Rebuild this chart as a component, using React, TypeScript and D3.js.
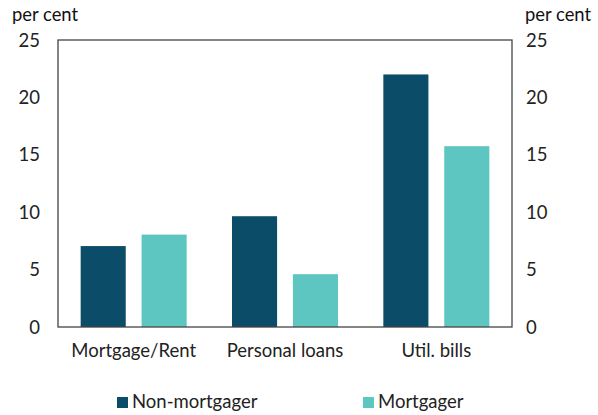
import React from "react";
import * as d3 from "d3";

const categories = ["Mortgage/Rent", "Personal loans", "Util. bills"];
const seriesNames = ["Non-mortgager", "Mortgager"];
const nonMortgager = [7.05, 9.65, 22.0];
const mortgager = [8.05, 4.6, 15.75];
const yTicks = [0, 5, 10, 15, 20, 25];
const colors = ["#0b4d68", "#5ec6c1"];

const W = 598, H = 415;
const left = 58, right = 512, top = 40, bottom = 327;

export default function App() {
  const x = d3.scaleBand().domain(categories).range([left, right]).paddingInner(0).paddingOuter(0);
  const inner = d3.scaleBand().domain(seriesNames).range([0, 106]).paddingInner(0.26).paddingOuter(0);
  const y = d3.scaleLinear().domain([0, 25]).range([bottom, top]);
  const values = [nonMortgager, mortgager];
  const font = "Lato, 'Open Sans', sans-serif";
  return (
    <svg width={W} height={H} style={{ position: "absolute", left: 0, top: 0 }} fontFamily={font}>
      <rect x={0} y={0} width={W} height={H} fill="#fff" />
      {values.map((vals, si) =>
        vals.map((v, ci) => {
          const cx = x(categories[ci])! + x.bandwidth() / 2 - 53;
          return (
            <rect key={`${si}-${ci}`} x={cx + inner(seriesNames[si])!} y={y(v)} width={inner.bandwidth()} height={y(0) - y(v)} fill={colors[si]} />
          );
        })
      )}
      <rect x={left} y={top} width={right - left} height={bottom - top} fill="none" stroke="#444" strokeWidth={1.3} />
      {yTicks.map((t) => (
        <g key={t}>
          <text x={40} y={y(t)} dy="0.36em" textAnchor="end" fontSize={18.5} fill="#222">{t}</text>
          <text x={526} y={y(t)} dy="0.36em" textAnchor="start" fontSize={18.5} fill="#222">{t}</text>
        </g>
      ))}
      <text x={12} y={21} fontSize={18.4} fill="#111">per cent</text>
      <text x={525} y={21} fontSize={18.4} fill="#111">per cent</text>
      {categories.map((c) => (
        <text key={c} x={x(c)! + x.bandwidth() / 2} y={357} textAnchor="middle" fontSize={18.5} fill="#222">{c}</text>
      ))}
      {seriesNames.map((s, i) => {
        const lx = [117, 363][i];
        return (
          <g key={s}>
            <rect x={lx} y={397} width={11} height={11} fill={colors[i]} />
            <text x={lx + 15} y={408} fontSize={18.5} fill="#222">{s}</text>
          </g>
        );
      })}
    </svg>
  );
}
